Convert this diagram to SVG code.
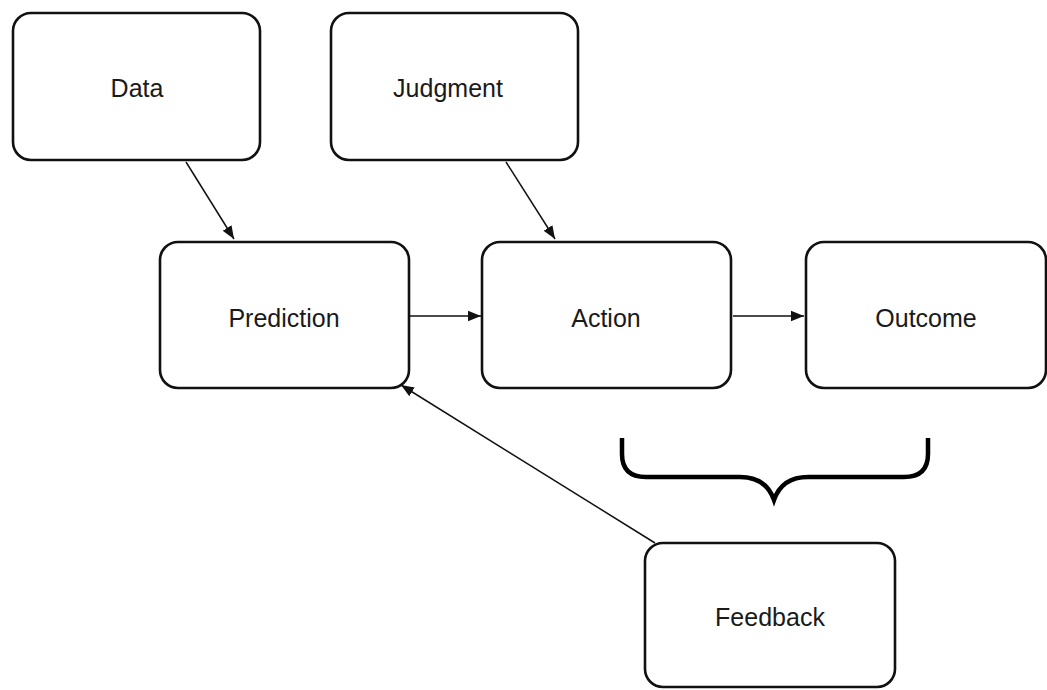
<svg xmlns="http://www.w3.org/2000/svg" width="1047" height="690" viewBox="0 0 1047 690">
  <defs>
    <style>
      .box { fill: #ffffff; stroke: #111111; stroke-width: 2.6; }
      .label { font-family: "Liberation Sans", Arial, sans-serif; font-size: 25px; fill: #1a1a1a; text-anchor: middle; dominant-baseline: central; }
      .edge { stroke: #111111; stroke-width: 1.5; fill: none; marker-end: url(#arrow); }
      .brace { stroke: #000000; stroke-width: 4.5; fill: none; stroke-linecap: butt; }
    </style>
    <marker id="arrow" viewBox="0 0 10 10" refX="10" refY="5" markerWidth="13" markerHeight="13" markerUnits="userSpaceOnUse" orient="auto">
      <path d="M0,1 L10,5 L0,9 Z" fill="#111111"/>
    </marker>
  </defs>
  <rect width="1047" height="690" fill="#ffffff"/>

  <g id="connectors">
    <line class="edge" x1="186" y1="162" x2="234" y2="239"/>
    <line class="edge" x1="506" y1="162" x2="555" y2="239"/>
    <line class="edge" x1="410" y1="316" x2="481" y2="316"/>
    <line class="edge" x1="733" y1="316" x2="804" y2="316"/>
    <line class="edge" x1="655" y1="543" x2="401" y2="385"/>
  </g>

  <g id="node-data">
    <rect class="box" x="13" y="13" width="247" height="147" rx="18"/>
    <text class="label" x="137" y="88">Data</text>
  </g>
  <g id="node-judgment">
    <rect class="box" x="331" y="13" width="247" height="147" rx="18"/>
    <text class="label" x="448" y="88">Judgment</text>
  </g>
  <g id="node-prediction">
    <rect class="box" x="160" y="242" width="249" height="146" rx="18"/>
    <text class="label" x="284" y="318">Prediction</text>
  </g>
  <g id="node-action">
    <rect class="box" x="482" y="242" width="249" height="146" rx="18"/>
    <text class="label" x="606" y="318">Action</text>
  </g>
  <g id="node-outcome">
    <rect class="box" x="806" y="242" width="240" height="146" rx="18"/>
    <text class="label" x="926" y="318">Outcome</text>
  </g>
  <g id="node-feedback">
    <rect class="box" x="645" y="543" width="250" height="144" rx="18"/>
    <text class="label" x="770" y="617">Feedback</text>
  </g>

  <g id="brace">
    <path class="brace" d="M622,438 L622,454 Q622,477 646,477 L740,477 Q766,477 774,500 Q782,477 808,477 L904,477 Q928,477 928,454 L928,438"/>
  </g>
</svg>
